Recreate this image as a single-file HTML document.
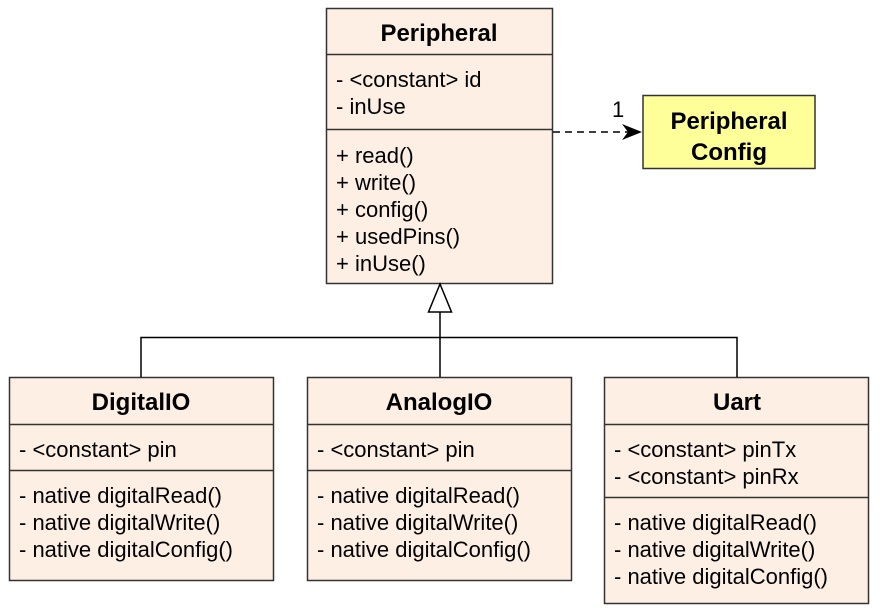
<!DOCTYPE html>
<html><head><meta charset="utf-8"><style>
html,body{margin:0;padding:0;background:#fff;}
svg{display:block;}
text{font-family:"Liberation Sans",Arial,sans-serif;font-size:22px;fill:#000;}
.b{font-weight:bold;font-size:24px;}
</style></head><body>
<svg width="880" height="612" viewBox="0 0 880 612" xmlns="http://www.w3.org/2000/svg">
<g stroke="#333" stroke-width="1.5" fill="#fdefe3">
<rect x="326.5" y="8.5" width="226" height="275"/>
<rect x="9.5" y="377.5" width="264" height="203"/>
<rect x="307.5" y="377.5" width="264" height="203"/>
<rect x="604.5" y="377.5" width="264" height="226"/>
<rect x="643" y="95.5" width="172" height="73" fill="#ffff99"/>
</g>
<g stroke="#333" stroke-width="1.5">
<line x1="326" y1="54.5" x2="552" y2="54.5"/>
<line x1="326" y1="129.5" x2="552" y2="129.5"/>
<line x1="9" y1="424.5" x2="273" y2="424.5"/>
<line x1="9" y1="470.5" x2="273" y2="470.5"/>
<line x1="307" y1="424.5" x2="571" y2="424.5"/>
<line x1="307" y1="470.5" x2="571" y2="470.5"/>
<line x1="604" y1="424.5" x2="868" y2="424.5"/>
<line x1="604" y1="497.5" x2="868" y2="497.5"/>
</g>
<g stroke="#000" stroke-width="1.5" fill="none">
<polyline points="141,377 141,337.5 737,337.5 737,377"/>
<line x1="440" y1="312" x2="440" y2="377"/>
<polygon points="440,284 428.5,312 451.5,312" fill="#fff"/>
<line x1="553" y1="132" x2="630" y2="132" stroke-dasharray="7,5"/>
</g>
<polygon points="642,132 622,124 628,132 622,140" fill="#000"/>
<text x="612" y="117">1</text>
<text class="b" x="439" y="41" text-anchor="middle" textLength="117" lengthAdjust="spacingAndGlyphs">Peripheral</text>
<text x="336" y="87">- &lt;constant&gt; id</text>
<text x="336" y="114">- inUse</text>
<text x="336" y="163">+ read()</text>
<text x="336" y="190">+ write()</text>
<text x="336" y="217">+ config()</text>
<text x="336" y="244">+ usedPins()</text>
<text x="336" y="271">+ inUse()</text>
<text class="b" x="729" y="129" text-anchor="middle" textLength="117" lengthAdjust="spacingAndGlyphs">Peripheral</text>
<text class="b" x="729" y="160" text-anchor="middle">Config</text>

<text class="b" x="141" y="410" text-anchor="middle">DigitalIO</text>
<text x="19" y="457">- &lt;constant&gt; pin</text>
<text x="19" y="503">- native digitalRead()</text>
<text x="19" y="530">- native digitalWrite()</text>
<text x="19" y="557">- native digitalConfig()</text>

<text class="b" x="439" y="410" text-anchor="middle">AnalogIO</text>
<text x="317" y="457">- &lt;constant&gt; pin</text>
<text x="317" y="503">- native digitalRead()</text>
<text x="317" y="530">- native digitalWrite()</text>
<text x="317" y="557">- native digitalConfig()</text>

<text class="b" x="737" y="410" text-anchor="middle">Uart</text>
<text x="614" y="457">- &lt;constant&gt; pinTx</text>
<text x="614" y="484">- &lt;constant&gt; pinRx</text>
<text x="614" y="530">- native digitalRead()</text>
<text x="614" y="557">- native digitalWrite()</text>
<text x="614" y="584">- native digitalConfig()</text>
</svg>
</body></html>
